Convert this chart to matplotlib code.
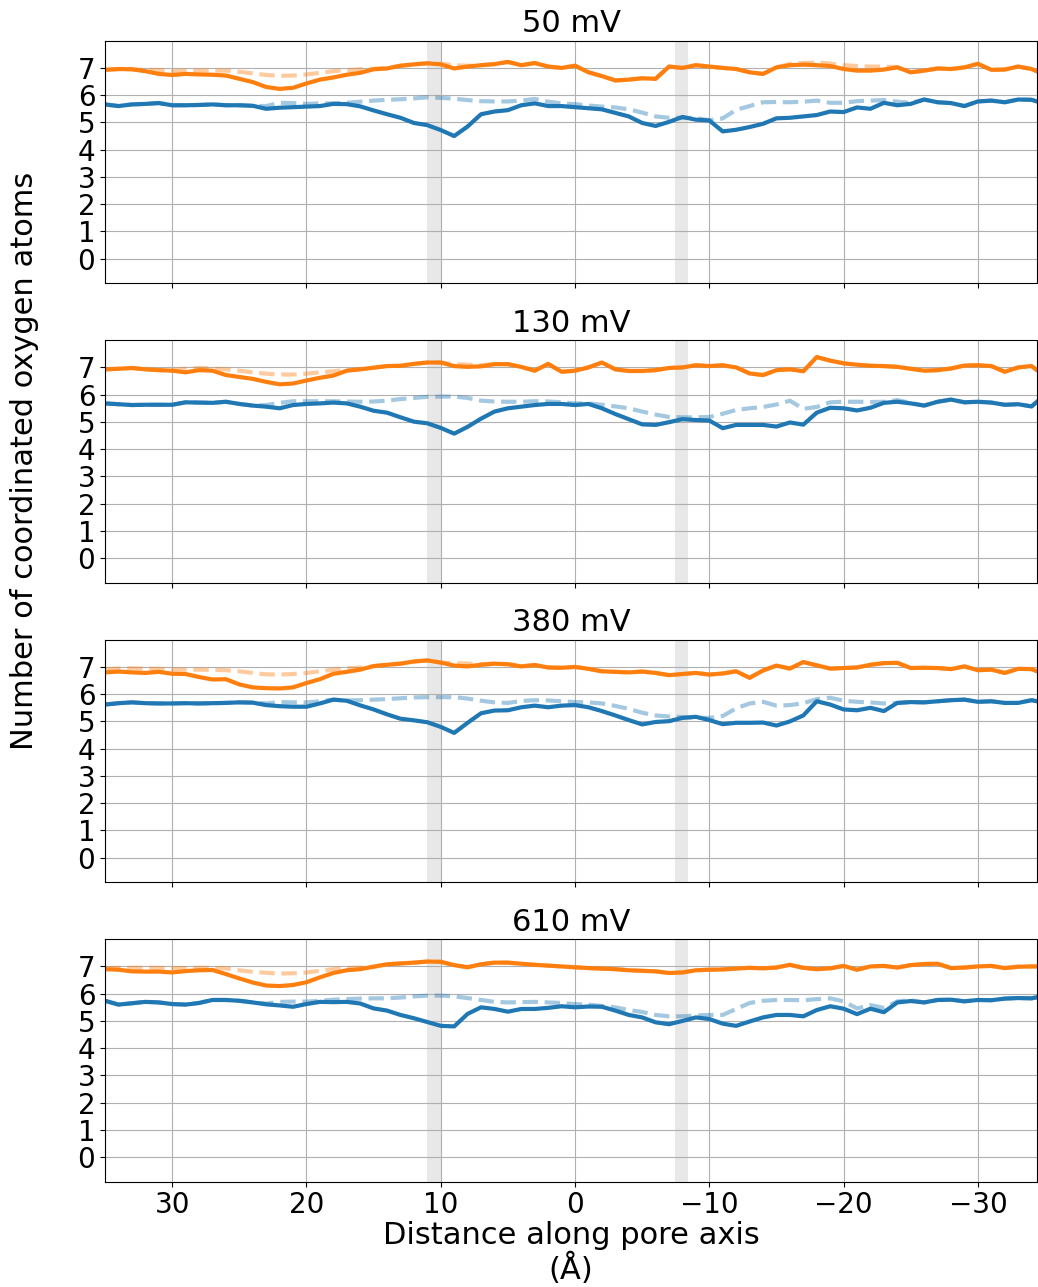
import numpy as np
import matplotlib.pyplot as plt

# position along the pore axis (Å), 1 Å steps down to the box edge
z = np.append(np.arange(35, -35, -1.0), -34.4)

voltages = [50, 130, 380, 610]

# selectivity-filter regions shaded on every panel
bands = [(10.0, 11.0), (-8.4, -7.45)]

# --- 50 mV ---
orange_50 = [6.93, 6.96, 6.95, 6.88, 6.78, 6.74, 6.78, 6.76, 6.75, 6.72,
             6.60, 6.48, 6.30, 6.23, 6.27, 6.43, 6.57, 6.65, 6.75, 6.82,
             6.95, 6.98, 7.08, 7.13, 7.17, 7.13, 6.98, 7.05, 7.10, 7.14,
             7.22, 7.10, 7.18, 7.05, 7.00, 7.08, 6.84, 6.70, 6.54, 6.57,
             6.62, 6.60, 7.05, 7.00, 7.10, 7.05, 7.00, 6.96, 6.84, 6.78,
             7.02, 7.10, 7.12, 7.10, 7.07, 6.96, 6.90, 6.90, 6.94, 7.02,
             6.84, 6.90, 6.98, 6.96, 7.02, 7.15, 6.93, 6.94, 7.05, 6.96,
             6.87]
orange_50_ref = [6.93, 6.95, 6.95, 6.93, 6.92, 6.88, 6.90, 6.90, 6.90, 6.90,
                 6.86, 6.80, 6.74, 6.71, 6.72, 6.76, 6.82, 6.88, 6.92, 6.95,
                 6.97, 7.00, 7.08, 7.13, 7.17, 7.15, 7.10, 7.08, 7.10, 7.14,
                 7.22, 7.10, 7.18, 7.05, 7.00, 7.08, 6.84, 6.70, 6.54, 6.57,
                 6.62, 6.60, 7.05, 7.00, 7.10, 7.05, 7.00, 6.96, 6.84, 6.78,
                 7.02, 7.15, 7.18, 7.20, 7.16, 7.10, 7.07, 7.05, 7.05, 7.03,
                 6.84, 6.90, 6.98, 6.96, 7.02, 7.15, 6.93, 6.94, 7.05, 6.96,
                 6.87]
blue_50 = [5.66, 5.60, 5.66, 5.68, 5.71, 5.63, 5.63, 5.64, 5.66, 5.63,
           5.63, 5.61, 5.50, 5.54, 5.56, 5.58, 5.60, 5.68, 5.67, 5.59,
           5.44, 5.30, 5.17, 4.98, 4.90, 4.72, 4.50, 4.85, 5.30, 5.40,
           5.45, 5.63, 5.70, 5.60, 5.60, 5.56, 5.52, 5.48, 5.35, 5.22,
           4.98, 4.87, 5.02, 5.20, 5.10, 5.07, 4.67, 4.73, 4.83, 4.95,
           5.15, 5.17, 5.22, 5.27, 5.40, 5.38, 5.55, 5.50, 5.72, 5.63,
           5.68, 5.84, 5.74, 5.71, 5.60, 5.77, 5.80, 5.74, 5.84, 5.83,
           5.77]
blue_50_ref = [5.66, 5.60, 5.66, 5.68, 5.71, 5.63, 5.63, 5.64, 5.66, 5.63,
               5.63, 5.61, 5.60, 5.72, 5.71, 5.68, 5.70, 5.70, 5.72, 5.76,
               5.80, 5.83, 5.85, 5.88, 5.92, 5.90, 5.87, 5.82, 5.78, 5.77,
               5.77, 5.80, 5.86, 5.76, 5.70, 5.67, 5.62, 5.58, 5.55, 5.48,
               5.36, 5.22, 5.17, 5.17, 5.16, 5.08, 5.15, 5.46, 5.60, 5.74,
               5.75, 5.74, 5.76, 5.80, 5.72, 5.72, 5.78, 5.80, 5.82, 5.76,
               5.72, 5.84, 5.74, 5.71, 5.60, 5.77, 5.80, 5.74, 5.84, 5.83,
               5.77]

# --- 130 mV ---
orange_130 = [6.93, 6.95, 6.98, 6.93, 6.90, 6.88, 6.82, 6.90, 6.88, 6.72,
              6.65, 6.58, 6.47, 6.38, 6.41, 6.52, 6.62, 6.70, 6.88, 6.93,
              6.99, 7.05, 7.06, 7.13, 7.18, 7.18, 7.05, 7.02, 7.04, 7.12,
              7.12, 7.02, 6.88, 7.13, 6.84, 6.88, 7.00, 7.18, 6.93, 6.87,
              6.87, 6.90, 6.98, 7.00, 7.08, 7.05, 7.08, 7.00, 6.78, 6.72,
              6.90, 6.93, 6.86, 7.38, 7.25, 7.15, 7.10, 7.06, 7.05, 7.02,
              6.95, 6.88, 6.90, 6.96, 7.07, 7.08, 7.05, 6.84, 7.00, 7.05,
              6.90]
orange_130_ref = [6.93, 6.95, 6.98, 6.93, 6.90, 6.90, 6.95, 6.98, 6.96, 6.93,
                  6.88, 6.82, 6.77, 6.74, 6.74, 6.77, 6.82, 6.86, 6.90, 6.93,
                  6.99, 7.05, 7.06, 7.13, 7.18, 7.18, 7.12, 7.10, 7.08, 7.12,
                  7.12, 7.02, 6.88, 7.13, 6.84, 6.88, 7.00, 7.18, 6.93, 6.87,
                  6.87, 6.90, 6.98, 7.00, 7.08, 7.05, 7.08, 7.00, 6.78, 6.72,
                  6.90, 6.93, 6.86, 7.38, 7.25, 7.15, 7.10, 7.06, 7.05, 7.02,
                  6.95, 6.88, 6.90, 6.96, 7.07, 7.08, 7.05, 6.84, 7.00, 7.05,
                  6.90]
blue_130 = [5.68, 5.65, 5.62, 5.63, 5.63, 5.63, 5.72, 5.71, 5.70, 5.74,
            5.66, 5.60, 5.56, 5.50, 5.62, 5.66, 5.68, 5.71, 5.68, 5.56,
            5.41, 5.34, 5.17, 5.01, 4.95, 4.78, 4.57, 4.82, 5.12, 5.38,
            5.50, 5.56, 5.62, 5.66, 5.66, 5.62, 5.66, 5.50, 5.29, 5.10,
            4.91, 4.89, 4.99, 5.10, 5.07, 5.05, 4.77, 4.89, 4.89, 4.89,
            4.83, 4.98, 4.90, 5.34, 5.52, 5.50, 5.42, 5.52, 5.70, 5.74,
            5.68, 5.60, 5.74, 5.82, 5.72, 5.74, 5.71, 5.63, 5.65, 5.57,
            5.74]
blue_130_ref = [5.68, 5.65, 5.62, 5.63, 5.63, 5.63, 5.72, 5.71, 5.70, 5.74,
                5.66, 5.60, 5.62, 5.70, 5.76, 5.76, 5.76, 5.76, 5.75, 5.74,
                5.75, 5.78, 5.84, 5.88, 5.92, 5.93, 5.93, 5.88, 5.78, 5.75,
                5.74, 5.74, 5.76, 5.75, 5.72, 5.68, 5.68, 5.63, 5.57, 5.50,
                5.38, 5.27, 5.18, 5.17, 5.17, 5.18, 5.30, 5.44, 5.50, 5.55,
                5.64, 5.78, 5.48, 5.55, 5.72, 5.74, 5.74, 5.73, 5.74, 5.80,
                5.70, 5.60, 5.74, 5.82, 5.72, 5.74, 5.71, 5.63, 5.65, 5.57,
                5.74]

# --- 380 mV ---
orange_380 = [6.80, 6.83, 6.80, 6.78, 6.82, 6.75, 6.74, 6.63, 6.54, 6.55,
              6.36, 6.25, 6.22, 6.21, 6.25, 6.41, 6.55, 6.75, 6.82, 6.90,
              7.03, 7.08, 7.12, 7.20, 7.24, 7.16, 7.05, 7.02, 7.08, 7.12,
              7.10, 7.02, 7.07, 6.98, 6.97, 7.00, 6.93, 6.84, 6.82, 6.80,
              6.83, 6.78, 6.70, 6.74, 6.78, 6.72, 6.76, 6.84, 6.60, 6.87,
              7.05, 6.94, 7.18, 7.06, 6.94, 6.96, 6.98, 7.08, 7.14, 7.15,
              6.96, 6.97, 6.96, 6.92, 7.02, 6.88, 6.90, 6.78, 6.93, 6.92,
              6.84]
orange_380_ref = [6.92, 6.94, 6.95, 6.94, 6.93, 6.90, 6.90, 6.90, 6.89, 6.88,
                  6.84, 6.78, 6.73, 6.72, 6.74, 6.78, 6.84, 6.90, 6.95, 6.97,
                  7.03, 7.08, 7.12, 7.20, 7.24, 7.16, 7.14, 7.12, 7.10, 7.12,
                  7.10, 7.02, 7.07, 6.98, 6.97, 7.00, 6.93, 6.84, 6.82, 6.80,
                  6.83, 6.78, 6.70, 6.74, 6.78, 6.72, 6.76, 6.84, 6.60, 6.87,
                  7.05, 6.94, 7.18, 7.06, 6.94, 6.96, 6.98, 7.08, 7.14, 7.15,
                  6.96, 6.97, 6.96, 6.92, 7.02, 6.88, 6.90, 6.78, 6.93, 6.92,
                  6.84]
blue_380 = [5.62, 5.67, 5.70, 5.67, 5.66, 5.66, 5.67, 5.66, 5.67, 5.68,
            5.70, 5.69, 5.60, 5.56, 5.54, 5.54, 5.66, 5.80, 5.76, 5.59,
            5.44, 5.26, 5.10, 5.04, 4.97, 4.80, 4.58, 4.95, 5.30, 5.40,
            5.41, 5.52, 5.58, 5.52, 5.58, 5.60, 5.52, 5.38, 5.22, 5.05,
            4.89, 4.98, 5.01, 5.13, 5.17, 5.05, 4.90, 4.95, 4.95, 4.96,
            4.85, 5.00, 5.22, 5.74, 5.62, 5.44, 5.41, 5.50, 5.38, 5.68,
            5.71, 5.70, 5.74, 5.78, 5.80, 5.72, 5.74, 5.68, 5.68, 5.78,
            5.74]
blue_380_ref = [5.62, 5.67, 5.70, 5.67, 5.66, 5.66, 5.67, 5.66, 5.67, 5.68,
                5.70, 5.69, 5.66, 5.71, 5.70, 5.70, 5.74, 5.80, 5.77, 5.78,
                5.80, 5.82, 5.85, 5.88, 5.89, 5.89, 5.89, 5.84, 5.76, 5.70,
                5.68, 5.75, 5.78, 5.77, 5.74, 5.71, 5.70, 5.66, 5.57, 5.46,
                5.32, 5.22, 5.18, 5.16, 5.13, 5.13, 5.20, 5.48, 5.66, 5.72,
                5.58, 5.60, 5.67, 5.82, 5.87, 5.76, 5.72, 5.70, 5.66, 5.68,
                5.71, 5.70, 5.74, 5.78, 5.80, 5.72, 5.74, 5.68, 5.68, 5.78,
                5.74]

# --- 610 mV ---
orange_610 = [6.90, 6.88, 6.82, 6.81, 6.81, 6.78, 6.83, 6.86, 6.87, 6.72,
              6.56, 6.41, 6.30, 6.28, 6.32, 6.42, 6.60, 6.76, 6.86, 6.90,
              6.99, 7.08, 7.11, 7.14, 7.18, 7.17, 7.05, 6.97, 7.08, 7.14,
              7.14, 7.10, 7.06, 7.03, 7.00, 6.97, 6.94, 6.92, 6.90, 6.86,
              6.84, 6.82, 6.76, 6.78, 6.86, 6.88, 6.89, 6.92, 6.95, 6.93,
              6.96, 7.06, 6.95, 6.90, 6.93, 7.02, 6.88, 7.00, 7.02, 6.96,
              7.05, 7.09, 7.10, 6.94, 6.96, 7.00, 7.02, 6.94, 6.99, 7.00,
              7.00]
orange_610_ref = [6.93, 6.95, 6.95, 6.95, 6.95, 6.94, 6.94, 6.95, 6.95, 6.93,
                  6.86, 6.80, 6.77, 6.74, 6.75, 6.78, 6.84, 6.90, 6.94, 6.96,
                  6.99, 7.08, 7.11, 7.14, 7.18, 7.17, 7.05, 6.97, 7.08, 7.14,
                  7.14, 7.10, 7.06, 7.03, 7.00, 6.97, 6.94, 6.92, 6.90, 6.86,
                  6.84, 6.82, 6.76, 6.78, 6.86, 6.88, 6.89, 6.92, 6.95, 6.93,
                  6.96, 7.06, 6.95, 6.90, 6.93, 7.02, 6.88, 7.00, 7.02, 6.96,
                  7.05, 7.09, 7.10, 6.94, 6.96, 7.00, 7.02, 6.94, 6.99, 7.00,
                  7.00]
blue_610 = [5.74, 5.60, 5.65, 5.70, 5.68, 5.62, 5.60, 5.66, 5.77, 5.77,
            5.74, 5.68, 5.61, 5.57, 5.52, 5.62, 5.70, 5.69, 5.70, 5.64,
            5.46, 5.38, 5.22, 5.10, 4.96, 4.82, 4.80, 5.26, 5.50, 5.44,
            5.34, 5.44, 5.44, 5.48, 5.54, 5.50, 5.53, 5.52, 5.38, 5.22,
            5.13, 4.95, 4.88, 5.00, 5.13, 5.07, 4.90, 4.82, 4.98, 5.13,
            5.22, 5.22, 5.17, 5.40, 5.54, 5.45, 5.25, 5.45, 5.32, 5.68,
            5.73, 5.68, 5.77, 5.78, 5.72, 5.77, 5.76, 5.82, 5.84, 5.83,
            5.87]
blue_610_ref = [5.74, 5.60, 5.65, 5.70, 5.68, 5.62, 5.60, 5.66, 5.77, 5.77,
                5.74, 5.68, 5.64, 5.70, 5.71, 5.71, 5.74, 5.78, 5.80, 5.82,
                5.83, 5.83, 5.86, 5.90, 5.93, 5.93, 5.90, 5.84, 5.77, 5.70,
                5.68, 5.69, 5.70, 5.68, 5.66, 5.62, 5.60, 5.55, 5.50, 5.40,
                5.33, 5.22, 5.17, 5.17, 5.20, 5.22, 5.22, 5.44, 5.66, 5.74,
                5.77, 5.77, 5.76, 5.80, 5.83, 5.72, 5.46, 5.58, 5.48, 5.72,
                5.76, 5.68, 5.77, 5.78, 5.72, 5.77, 5.76, 5.82, 5.84, 5.83,
                5.87]

orange = [orange_50, orange_130, orange_380, orange_610]
orange_ref = [orange_50_ref, orange_130_ref, orange_380_ref, orange_610_ref]
blue = [blue_50, blue_130, blue_380, blue_610]
blue_ref = [blue_50_ref, blue_130_ref, blue_380_ref, blue_610_ref]

fig, axes = plt.subplots(4, 1, figsize=(10.38, 12.87), dpi=100, sharex=True)
fig.subplots_adjust(left=0.1012, right=0.999, top=0.9684, bottom=0.0818, hspace=0.235)

for i, ax in enumerate(axes):
    for lo, hi in bands:
        ax.axvspan(lo, hi, color='lightgrey', alpha=0.5, lw=0)
    ax.plot(z, orange_ref[i], '--', color='tab:orange', alpha=0.4, lw=3)
    ax.plot(z, blue_ref[i], '--', color='tab:blue', alpha=0.4, lw=3)
    ax.plot(z, blue[i], color='tab:blue', lw=3)
    ax.plot(z, orange[i], color='tab:orange', lw=3)
    ax.set_title(f'{voltages[i]} mV', fontsize=22)
    ax.set_ylim(-0.9, 8)
    ax.set_yticks(range(8))
    ax.grid(True)
    ax.tick_params(labelsize=20)

axes[-1].set_xlim(35, -34.4)
axes[-1].set_xticks([30, 20, 10, 0, -10, -20, -30])
axes[-1].set_xlabel('Distance along pore axis\n(Å)', fontsize=22,
                    labelpad=1, linespacing=1.1)

fig.text(25 / 1038, 1 - 461 / 1287, 'Number of coordinated oxygen atoms',
         rotation=90, ha='center', va='center', fontsize=22)

plt.savefig('out.png', dpi=100)
